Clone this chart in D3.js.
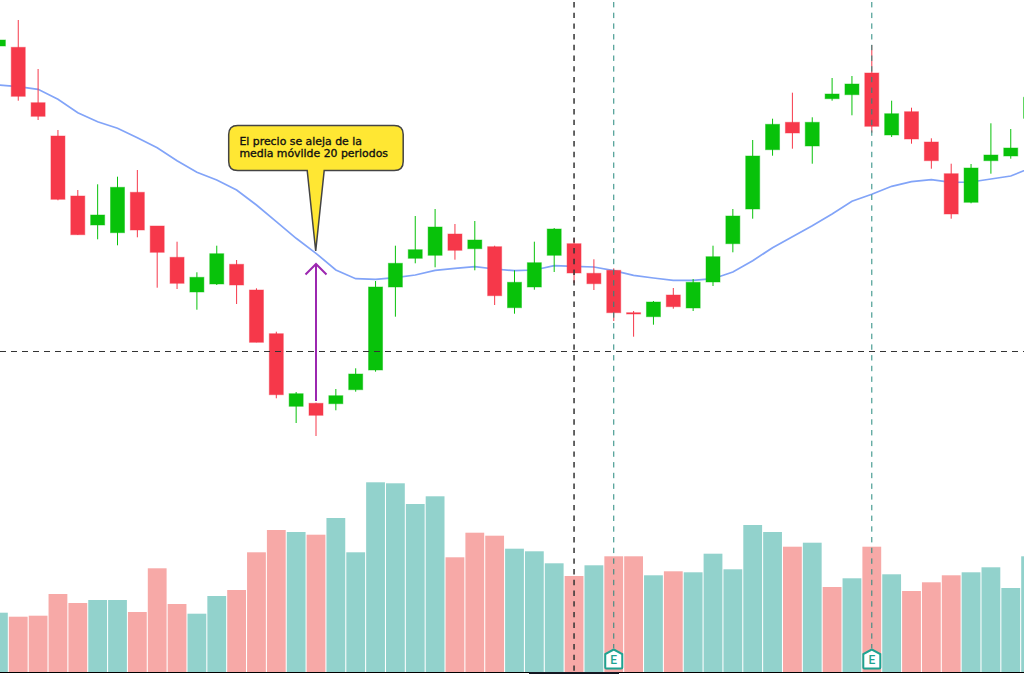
<!DOCTYPE html>
<html>
<head>
<meta charset="utf-8">
<script src="https://cdn.jsdelivr.net/npm/d3@7"></script>
<style>
  html, body { margin: 0; padding: 0; background: #fff; overflow: hidden; }
  svg { display: block; }
</style>
</head>
<body>
<svg id="chart" width="1024" height="674"></svg>
<script>
// values, price units are arbitrary (no axis is shown)
const opens = [454,452.7,397.3,364,304,275,267.3,307.7,274,242.7,208,216,235.7,210,166.3,93.7,96.7,96.3,110.3,130,213,241.7,244.7,266,251.3,253.3,192.3,213,244.7,256.3,226.7,229.7,187.3,183.3,205,192,218,256.3,291,350.3,377.7,354,401.3,405.3,427,365,388.3,358,326.3,297.7,339.3,344,381.7];
const highs = [460,480,431,370,310,315.7,323.3,330,274,258.3,227.7,254.3,240,211.7,168.3,108,97.3,111,131.7,219,254.3,284,291,276,279,254.3,229.7,258.3,272,262,240.7,231.7,189,199,212,221,254.3,291,360,381.3,407.3,382.7,422,424,455,399.3,392.3,361.7,336.3,336,376.7,371,402.7];
const lows = [454,399.3,380,299.7,265,260.7,254.7,262.7,212.3,211,190.3,215,196,157.7,101.7,77,64,89.7,108.3,128.3,183.3,236.7,232.7,240.3,229.7,195,186.3,210.3,228,217,210,179,163.3,175.3,191.3,189,214,247.7,281.3,344.3,351.3,336.3,399.3,384.7,367.3,363,356.3,331.3,281.3,296.7,326.3,341.3,381.7];
const closes = [460,403.7,383.7,300.7,265.3,285,312.7,270,247.7,216.7,222.7,246.3,215,157.7,105.3,106.3,84.7,104.3,126,213,236.7,250.3,273,249.7,260,204.3,217.7,237.3,271,227,216.3,187.3,186,198,193.3,217.7,243.3,284,344,375.7,367,377.7,406,416,373.7,386.3,361,339.3,286,332,345,352,402.7];
const movingAvg = [415,413.3,410.7,400.7,387.3,378.3,371.7,362.3,352.3,339.3,327.7,320,310,295,278.3,261.7,246.7,230,221.3,220.7,222.3,225,229.7,231.7,233.3,231,229.3,230,234.3,233.7,233,229.3,224.7,222,219.7,219.7,221.3,228,239.3,252.3,263.3,274.3,286,298.7,305.7,313.7,318.3,320.3,317.7,318,321,324,332];
const volumes = [59.3,55.3,56.3,78,69,72,72,60,103.7,68,58.3,76,82,119.7,142,140,137.3,154,119.7,189.7,188.7,168,175.7,114.7,139.3,136.3,123.3,120.7,108.7,96,106.7,115.7,115.7,96.7,100.7,99.7,118.3,102.7,147,140,125.3,129.3,85,93.7,125.3,97.7,81,89.7,96.7,99.7,104.7,84,115.7];
const volumeUp = [1,0,0,0,0,1,1,0,0,0,1,1,0,0,0,1,0,1,1,1,1,1,1,0,0,0,1,1,1,0,1,0,0,1,0,1,1,1,1,1,0,1,0,1,0,1,0,0,0,1,1,1,1];
const earnings = [31, 44];
const cursorBar = 29;
const cursorPrice = 148.5;
const noteLines = ["El precio se aleja de la", "media móvilde 20 periodos"];

const upColor = "#08c20a";
const downColor = "#f6384a";

const svg = d3.select("#chart");

const x = d3.scaleLinear().domain([0, 52]).range([-1.6, 1030.6]);
const y = d3.scaleLinear().domain([100, 500]).range([400, 0]);
const yVol = d3.scaleLinear().domain([0, 200]).range([672, 472]);

// volume
svg.append("g")
  .selectAll("rect")
  .data(volumes)
  .enter()
  .append("rect")
  .attr("x", (d, i) => x(i) - 9.4)
  .attr("width", 18.8)
  .attr("y", d => yVol(d))
  .attr("height", d => yVol(0) - yVol(d))
  .attr("fill", (d, i) => volumeUp[i] ? "#92d2cc" : "#f7a9a7");

// bottom axis line and the dark piece under it
svg.append("line")
  .attr("x1", 0).attr("x2", 1024)
  .attr("y1", yVol(0) + 0.5).attr("y2", yVol(0) + 0.5)
  .attr("stroke", "#000").attr("stroke-width", 1);
svg.append("rect")
  .attr("x", 529).attr("y", 672).attr("width", 90).attr("height", 2)
  .attr("fill", "#131722");

// moving average
const maLine = d3.line()
  .x((d, i) => x(i))
  .y(d => y(d));
svg.append("path")
  .datum(movingAvg)
  .attr("fill", "none")
  .attr("stroke", "#82a4f8")
  .attr("stroke-width", 1.7)
  .attr("d", maLine);

// candles
const candles = svg.append("g")
  .selectAll("g")
  .data(opens)
  .enter()
  .append("g");

const candleColor = (o, i) => closes[i] >= o ? upColor : downColor;

candles.append("line")
  .attr("x1", (d, i) => x(i))
  .attr("x2", (d, i) => x(i))
  .attr("y1", (d, i) => y(highs[i]))
  .attr("y2", (d, i) => y(lows[i]))
  .attr("stroke", candleColor)
  .attr("stroke-width", 1);

candles.append("rect")
  .attr("x", (d, i) => x(i) - 7)
  .attr("width", 14)
  .attr("y", (d, i) => y(Math.max(d, closes[i])))
  .attr("height", (d, i) => Math.abs(y(d) - y(closes[i])))
  .attr("fill", candleColor)
  .attr("stroke", candleColor)
  .attr("stroke-opacity", 0.45)
  .attr("stroke-width", 1);

// crosshair and earnings lines
svg.append("line")
  .attr("x1", 0).attr("x2", 1024)
  .attr("y1", y(cursorPrice)).attr("y2", y(cursorPrice))
  .attr("stroke", "#333")
  .attr("stroke-width", 1.2)
  .attr("stroke-dasharray", "6 5");

svg.append("line")
  .attr("x1", x(cursorBar)).attr("x2", x(cursorBar))
  .attr("y1", 2).attr("y2", 672)
  .attr("stroke", "#333")
  .attr("stroke-width", 1.5)
  .attr("stroke-dasharray", "5.4 5.3");

svg.append("g")
  .selectAll("line")
  .data(earnings)
  .enter()
  .append("line")
  .attr("x1", d => x(d)).attr("x2", d => x(d))
  .attr("y1", 2).attr("y2", 648)
  .attr("stroke", "#26897e")
  .attr("stroke-width", 1)
  .attr("stroke-dasharray", "5.4 5.3");

// E markers
const marks = svg.append("g")
  .selectAll("g")
  .data(earnings)
  .enter()
  .append("g")
  .attr("transform", d => `translate(${x(d)},659)`);

marks.append("path")
  .attr("d", "M0,-9.5 L8.5,-5 L8.5,8.5 Q8.5,9.5 7.5,9.5 L-7.5,9.5 Q-8.5,9.5 -8.5,8.5 L-8.5,-5 Z")
  .attr("fill", "#fff")
  .attr("stroke", "#1ea391")
  .attr("stroke-width", 2);

marks.append("text")
  .attr("text-anchor", "middle")
  .attr("y", 4.5)
  .attr("font-family", "Roboto, sans-serif")
  .attr("font-size", 12)
  .attr("font-weight", 500)
  .attr("fill", "#1ea391")
  .text("E");

// purple arrow
const arrowX = x(16);
const arrowTop = y(236);
svg.append("line")
  .attr("x1", arrowX).attr("x2", arrowX)
  .attr("y1", y(99)).attr("y2", arrowTop)
  .attr("stroke", "#9c27b0")
  .attr("stroke-width", 2);
svg.append("path")
  .attr("d", `M${arrowX - 10.5},${arrowTop + 10.5} L${arrowX},${arrowTop} L${arrowX + 10.5},${arrowTop + 10.5}`)
  .attr("fill", "none")
  .attr("stroke", "#9c27b0")
  .attr("stroke-width", 2);

// callout
const tipX = x(16) - 0.3;
const tipY = y(249);
const note = svg.append("g").attr("transform", `translate(${tipX},${tipY})`);
const bx0 = -87, bx1 = 87.5, by0 = -125.5, by1 = -80.5, r = 9;
note.append("path")
  .attr("d", `M${bx0 + r},${by0} H${bx1 - r} Q${bx1},${by0} ${bx1},${by0 + r} V${by1 - r} Q${bx1},${by1} ${bx1 - r},${by1} H8.5 L0,0 L-8.5,${by1} H${bx0 + r} Q${bx0},${by1} ${bx0},${by1 - r} V${by0 + r} Q${bx0},${by0} ${bx0 + r},${by0} Z`)
  .attr("fill", "#ffe733")
  .attr("stroke", "#444")
  .attr("stroke-width", 1.5);

note.selectAll("text")
  .data(noteLines)
  .enter()
  .append("text")
  .attr("x", bx0 + 10.7)
  .attr("y", (d, i) => by0 + 19.8 + i * 11.7)
  .attr("font-family", "'DejaVu Sans', sans-serif")
  .attr("font-size", 10.9)
  .attr("fill", "#111")
  .attr("stroke", "#111")
  .attr("stroke-width", 0.35)
  .text(d => d);
</script>
</body>
</html>
